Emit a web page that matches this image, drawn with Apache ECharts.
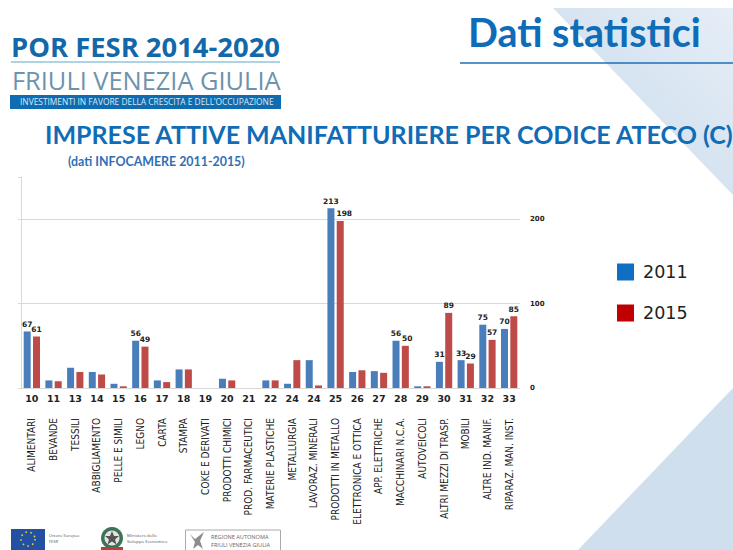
<!DOCTYPE html>
<html>
<head>
<meta charset="utf-8">
<style>html,body{margin:0;padding:0;background:#fff}#c{width:733px;height:550px}text{font-variant-ligatures:none}</style>
<script src="https://cdn.jsdelivr.net/npm/echarts@6/dist/echarts.min.js"></script>
</head>
<body>
<div id="c"></div>
<script>
// ATECO manufacturing divisions with active-firm counts, 2011 and 2015
const codes = ['10','11','13','14','15','16','17','18','19','20','21','22','24','24','25','26','27','28','29','30','31','32','33'];
const sectors = ['ALIMENTARI','BEVANDE','TESSILI','ABBIGLIAMENTO','PELLE E SIMILI','LEGNO','CARTA','STAMPA','COKE E DERIVATI','PRODOTTI CHIMICI','PROD. FARMACEUTICI','MATERIE PLASTICHE','METALLURGIA','LAVORAZ. MINERALI','PRODOTTI IN METALLO','ELETTRONICA E OTTICA','APP. ELETTRICHE','MACCHINARI N.C.A.','AUTOVEICOLI','ALTRI MEZZI DI TRASP.','MOBILI','ALTRE IND. MANIF.','RIPARAZ. MAN. INST.'];
const values2011 = [67,9,24,19,5,56,9,22,0,11,0,9,5,33,213,19,20,56,2,31,33,75,70];
const values2015 = [61,8,19,16,2,49,7,22,0,9,0,9,33,3,198,21,18,50,2,89,29,57,85];
const labelled2011 = [0,5,14,17,19,20,21,22];
const labelled2015 = [0,5,14,17,19,20,21,22];
const yTicks = [0,100,200];

const blueMark = '#4a7ebb', redMark = '#be4b48';
const brand = '#0f6cb6';

// Some 2015 labels sit a little to the right so they clear their neighbour
const labelNudge2015 = { 14: 4, 17: 2 };

function seriesData(values, labelled, nudge) {
  return values.map((v, i) => ({
    value: v,
    label: { show: labelled.includes(i), offset: [nudge[i] || 0, 0] }
  }));
}
function barSeries(name, values, labelled, color, nudge) {
  return {
    name, type: 'bar', xAxisIndex: 0, yAxisIndex: 0,
    barWidth: 7, barGap: '33%',
    itemStyle: { color },
    label: { position: 'top', distance: 3, fontFamily: 'DejaVu Sans', fontWeight: 'bold', fontSize: 7.5, color: '#222' },
    data: seriesData(values, labelled, nudge)
  };
}

const chart = echarts.init(document.getElementById('c'), null, { renderer: 'svg' });
chart.setOption({
  animation: false,
  backgroundColor: '#fff',
  grid: { left: 21, right: 213, top: 177, bottom: 162 },
  xAxis: [
    { type: 'category', data: codes, position: 'bottom',
      axisLine: { show: false }, axisTick: { show: false },
      axisLabel: { interval: 0, margin: 5, fontFamily: 'DejaVu Sans', fontWeight: 'bold', fontSize: 9.5, color: '#222' } },
    { type: 'category', data: sectors, position: 'bottom', offset: 30,
      axisLine: { show: false }, axisTick: { show: false },
      axisLabel: { interval: 0, rotate: 90, margin: 0, align: 'right', verticalAlign: 'middle',
        fontFamily: 'DejaVu Sans Condensed', fontSize: 10, color: '#1a1a1a' } }
  ],
  yAxis: [
    { type: 'value', min: 0, max: 250, interval: 100, position: 'right',
      axisLine: { show: false }, axisTick: { show: false },
      axisLabel: { margin: 10, fontFamily: 'DejaVu Sans', fontWeight: 'bold', fontSize: 7, color: '#222',
        formatter: v => yTicks.includes(v) ? String(v) : '' },
      splitLine: { show: true, showMaxLine: false, lineStyle: { color: '#d9d9d9', width: 1 } } },
    { type: 'value', min: 0, max: 250, interval: 100, position: 'left',
      axisLine: { show: true, onZero: false, lineStyle: { color: '#d9d9d9' } },
      axisTick: { show: true, length: 3, lineStyle: { color: '#d9d9d9' } },
      axisLabel: { show: false }, splitLine: { show: false } }
  ],
  series: [
    barSeries('2011', values2011, labelled2011, blueMark, {}),
    barSeries('2015', values2015, labelled2015, redMark, labelNudge2015)
  ],
  legend: { show: true, orient: 'vertical', left: 612, top: 258, itemWidth: 17, itemHeight: 17, itemGap: 23,
    icon: 'rect', data: [
      { name: '2011', itemStyle: { color: '#0f6fc0' } },
      { name: '2015', itemStyle: { color: '#c00000' } }
    ],
    textStyle: { fontFamily: 'DejaVu Sans', fontSize: 17.5, color: '#222', padding: [3,0,0,4] } },
  graphic: [
    // slide background wedges
    { type: 'polygon', silent: true, z: -10, shape: { points: [[553,8],[733,8],[733,195]] },
      style: { fill: { type: 'linear', x: 0, y: 1, x2: 1, y2: 0, colorStops: [{offset:0,color:'#c6d9ea'},{offset:1,color:'#e6eef7'}] } } },
    { type: 'polygon', silent: true, z: -10, shape: { points: [[578,550],[733,388],[733,550]] },
      style: { fill: '#cfdfed' } },
    // programme masthead
    { type: 'text', style: { x: 11, y: 33, text: 'POR FESR 2014-2020', font: 'bold 27.4px "Open Sans"', fill: '#1268a8' } },
    { type: 'line', shape: { x1: 11, y1: 62, x2: 280, y2: 62 }, style: { stroke: '#5aa9c9', lineWidth: 1 } },
    { type: 'text', style: { x: 12, y: 67, text: 'FRIULI VENEZIA GIULIA', font: '25.4px "Open Sans"', fill: '#6d93ad' } },
    { type: 'rect', shape: { x: 10, y: 95, width: 271, height: 14 }, style: { fill: '#0f6cb0' } },
    { type: 'text', style: { x: 20, y: 97, text: 'INVESTIMENTI IN FAVORE DELLA CRESCITA E DELL\u2019OCCUPAZIONE', font: '8.4px "Open Sans"', fill: '#dbe9f4' } },
    // slide headings
    { type: 'text', style: { x: 468, y: 12, text: 'Dati statistici', font: 'bold 39.4px Lato', fill: brand } },
    { type: 'line', shape: { x1: 460, y1: 63, x2: 733, y2: 63 }, style: { stroke: '#1d6fb8', lineWidth: 1.5 } },
    { type: 'text', style: { x: 45, y: 121, text: 'IMPRESE ATTIVE MANIFATTURIERE PER CODICE ATECO (C)', font: 'bold 25px Lato', fill: brand } },
    { type: 'text', style: { x: 68, y: 155, text: '(dati INFOCAMERE 2011-2015)', font: 'bold 12.4px Lato', fill: '#2f6fb5' } },
    // funding-body logos
    { type: 'rect', shape: { x: 11, y: 529, width: 34, height: 21 }, style: { fill: '#2151a0' } },
    { type: 'circle', shape: { cx: 28, cy: 539, r: 7 }, style: { fill: 'none', stroke: '#e8cf3a', lineWidth: 1.6, lineDash: [1.6,3.4] } },
    { type: 'text', style: { x: 49, y: 532, text: 'Unione Europea\nFESR', font: '4px "Open Sans"', fill: '#555', lineHeight: 6 } },
    { type: 'circle', shape: { cx: 112, cy: 538, r: 11 }, style: { fill: '#3a7355' } },
    { type: 'circle', shape: { cx: 112, cy: 538, r: 7.5 }, style: { fill: '#e4e4e4' } },
    { type: 'polygon', shape: { points: [[112,531],[114,536],[119,536],[115,539.5],[116.5,544.5],[112,541.5],[107.5,544.5],[109,539.5],[105,536],[110,536]] }, style: { fill: '#555' } },
    { type: 'rect', shape: { x: 101, y: 547, width: 22, height: 3 }, style: { fill: '#b8403a' } },
    { type: 'text', style: { x: 127, y: 532, text: 'Ministero dello\nSviluppo Economico', font: '4.3px "Open Sans"', fill: '#555', lineHeight: 6 } },
    { type: 'rect', shape: { x: 185.5, y: 530, width: 95, height: 21 }, style: { fill: '#fff', stroke: '#aaa', lineWidth: 1 } },
    { type: 'polygon', shape: { points: [[190,534],[195,539],[204,532],[200,541],[203,549],[198,545],[193,549],[195,542]] }, style: { fill: '#8d8d8d' } },
    { type: 'text', style: { x: 211, y: 533, text: 'REGIONE AUTONOMA\nFRIULI VENEZIA GIULIA', font: '5.6px "Open Sans"', fill: '#666', lineHeight: 8 } }
  ]
});
</script>
</body>
</html>
